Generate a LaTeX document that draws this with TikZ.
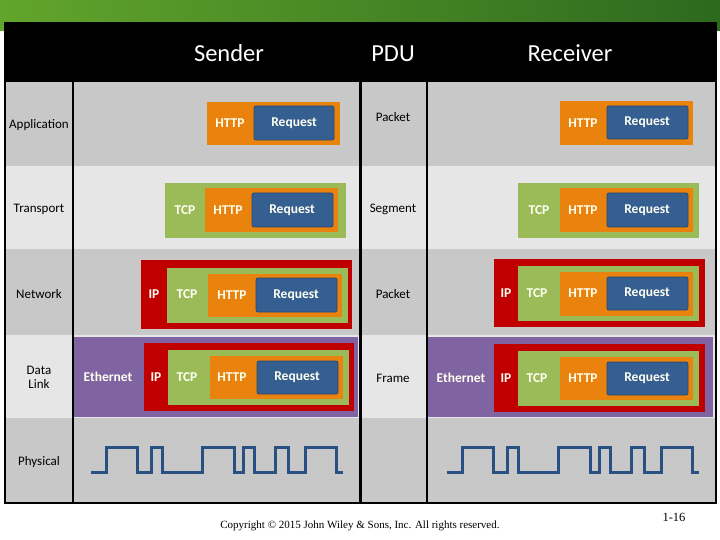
\documentclass[tikz,border=0pt]{standalone}
\usepackage{fontspec}
\setmainfont{Carlito}
\newfontfamily\cpyfont{Liberation Serif}
\definecolor{gA}{RGB}{98,165,44}
\definecolor{gB}{RGB}{45,105,30}
\definecolor{rowdark}{RGB}{200,200,200}
\definecolor{rowlight}{RGB}{230,230,230}
\definecolor{ora}{RGB}{233,131,13}
\definecolor{blu}{RGB}{54,95,145}
\definecolor{bluedge}{RGB}{40,72,115}
\definecolor{grn}{RGB}{155,187,89}
\definecolor{red1}{RGB}{192,0,0}
\definecolor{pur}{RGB}{128,100,162}
\definecolor{wav}{RGB}{41,80,130}
\definecolor{txtw}{RGB}{255,255,242}
\newcommand\pkbx[6]{\node[pkbox,fill=#2,minimum width=#5pt-#3pt,minimum height=#6pt-#4pt] (#1) at (#3,#4) {};}
\newcommand\rqbx[5]{\node[pkbox,rqbox,minimum width=#4pt-#2pt,minimum height=#5pt-#3pt] (#1) at (#2,#3) {};}
\begin{document}
\begin{tikzpicture}[x=1pt,y=-1pt,
  pkbox/.style={inner sep=0pt,outer sep=0pt,anchor=north west,draw=none},
  rqbox/.style={fill=blu,draw=bluedge,line width=0.8pt,rounded corners=2pt},
  hdr/.style={text=white,anchor=base,font=\fontsize{24.5}{27}\selectfont},
  rowlbl/.style={text=black,font=\fontsize{13}{14}\selectfont,align=center},
  inl/.style={text=txtw,font=\bfseries\fontsize{13.5}{15}\selectfont},
  wave/.style={draw=wav,line width=3pt,line join=miter},
  grid/.style={draw=black,line width=2.2pt}]
\useasboundingbox (0,0) rectangle (720,540);
\fill[white] (0,0) rectangle (720,540);
\shade[left color=gA,right color=gB] (0,0) rectangle (720,31);
% table
\fill[black] (5,23) rectangle (716,82);
\fill[rowdark] (5,82) rectangle (716,166);
\fill[rowlight] (5,166) rectangle (716,249);
\fill[rowdark] (5,249) rectangle (716,335);
\fill[rowlight] (5,335) rectangle (716,418);
\fill[rowdark] (5,418) rectangle (716,503);
\pkbx{sdp}{pur}{74}{337}{358}{417}
\pkbx{rdp}{pur}{428}{337}{713}{417}
\draw[grid] (73,82) -- (73,503) (360.5,82) -- (360.5,503) (427,82) -- (427,503);
\draw[grid] (5,23) rectangle (716,503);
% headers
\node[hdr] (hs) at (229,61.5) {Sender};
\node[hdr] (hp) at (393,61.5) {PDU};
\node[hdr] (hr) at (570,61.5) {Receiver};
% row labels
\node[rowlbl] (la) at (39,125) {Application};
\node[rowlbl] (lt) at (39,209) {Transport};
\node[rowlbl] (ln) at (39,294) {Network};
\node[rowlbl] (ld) at (39,377) {Data\\Link};
\node[rowlbl] (lp) at (39,462) {Physical};
\node[rowlbl] (pa) at (393,117) {Packet};
\node[rowlbl] (pt) at (393,209) {Segment};
\node[rowlbl] (pn) at (393,294) {Packet};
\node[rowlbl] (pd) at (393,378) {Frame};
% sender application
\pkbx{sao}{ora}{207}{102}{340}{145}
\rqbx{sab}{254}{106}{334}{140}
\node[inl] (sah) at (230,123) {HTTP};
\node[inl] (sar) at (294,123) {Request};
% receiver application
\pkbx{rao}{ora}{560}{101}{693}{145}
\rqbx{rab}{607}{106}{688}{139}
\node[inl] (rah) at (583,123) {HTTP};
\node[inl] (rar) at (647,122.5) {Request};
% sender transport
\pkbx{stg}{grn}{165}{183}{346}{238}
\pkbx{sto}{ora}{205}{188}{338}{232}
\rqbx{stb}{252}{193}{333}{227}
\node[inl] (stt) at (185,210) {TCP};
\node[inl] (sth) at (228,210) {HTTP};
\node[inl] (str) at (292,210) {Request};
% receiver transport
\pkbx{rtg}{grn}{518}{183}{699}{238}
\pkbx{rto}{ora}{560}{188}{693}{232}
\rqbx{rtb}{607}{193}{688}{227}
\node[inl] (rtt) at (539,210) {TCP};
\node[inl] (rth) at (583,210) {HTTP};
\node[inl] (rtr) at (647,210) {Request};
% sender network
\pkbx{snr}{red1}{141}{260}{352}{329}
\pkbx{sng}{grn}{167}{268}{348}{323}
\pkbx{sno}{ora}{208}{274}{342}{317}
\rqbx{snb}{256}{278}{337}{312}
\node[inl] (sni) at (154,294) {IP};
\node[inl] (snt) at (187,294) {TCP};
\node[inl] (snh) at (232,295) {HTTP};
\node[inl] (snq) at (296,295) {Request};
% receiver network
\pkbx{rnr}{red1}{494}{259}{705}{327}
\pkbx{rng}{grn}{518}{266}{699}{321}
\pkbx{rno}{ora}{560}{272}{693}{316}
\rqbx{rnb}{607}{277}{688}{310}
\node[inl] (rni) at (506,293) {IP};
\node[inl] (rnt) at (537,293) {TCP};
\node[inl] (rnh) at (583,293) {HTTP};
\node[inl] (rnq) at (647,293) {Request};
% sender data link
\pkbx{sdr}{red1}{144}{343}{354}{411}
\pkbx{sdg}{grn}{168}{350}{349}{405}
\pkbx{sdo}{ora}{210}{356}{343}{399}
\rqbx{sdb}{257}{361}{338}{394}
\node[inl] (sde) at (108,377) {Ethernet};
\node[inl] (sdi) at (156,377) {IP};
\node[inl] (sdt) at (187,377) {TCP};
\node[inl] (sdh) at (232,377) {HTTP};
\node[inl] (sdq) at (297,377) {Request};
% receiver data link
\pkbx{rdr}{red1}{494}{344}{705}{412}
\pkbx{rdg}{grn}{518}{351}{699}{406}
\pkbx{rdo}{ora}{560}{357}{693}{400}
\rqbx{rdb}{607}{362}{688}{395}
\node[inl] (rde) at (461,378) {Ethernet};
\node[inl] (rdi) at (506,378) {IP};
\node[inl] (rdt) at (537,378) {TCP};
\node[inl] (rdh) at (583,378) {HTTP};
\node[inl] (rdq) at (647,378) {Request};
% physical waveforms
\foreach \xo in {91,447}{
\begin{scope}[shift={(\xo,0)}]
\draw[wave] (0,472) -- (15,472) -- (15,447) -- (46,447) -- (46,472) -- (60,472) -- (60,447) -- (71,447) -- (71,472) -- (111,472) -- (111,447) -- (143,447) -- (143,472) -- (152,472) -- (152,447) -- (163,447) -- (163,472) -- (184,472) -- (184,447) -- (197,447) -- (197,472) -- (214,472) -- (214,447) -- (245,447) -- (245,472) -- (252,472);
\end{scope}}
% footer
\node[font=\cpyfont\fontsize{11}{12}\selectfont] (copy) at (360,526) {Copyright © 2015 John Wiley \& Sons, Inc. All rights reserved.};
\node[font=\cpyfont\fontsize{12.5}{14}\selectfont] (pg) at (674,517) {1-16};
\end{tikzpicture}
\end{document}
